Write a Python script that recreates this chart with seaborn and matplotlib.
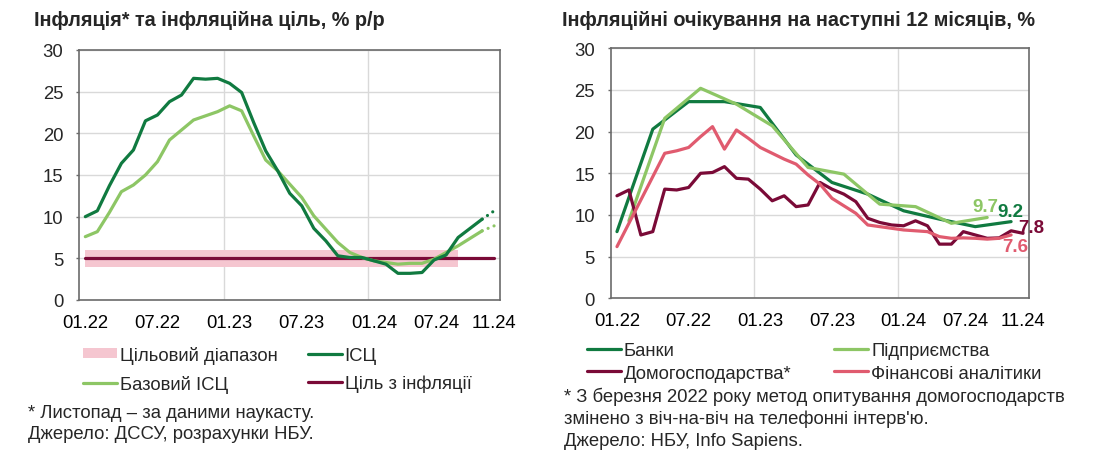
import numpy as np
import pandas as pd
import matplotlib
matplotlib.use("Agg")
import matplotlib.pyplot as plt
import seaborn as sns
from matplotlib.lines import Line2D
from matplotlib.patches import Patch

nan = np.nan

# ---------------- data ----------------
months = [f"{m:02d}.{y}" for y in (22, 23, 24) for m in range(1, 13)][:35]
tick_labels = ["01.22", "07.22", "01.23", "07.23", "01.24", "07.24", "11.24"]

# left chart: inflation, % y/y
cpi = [10.0, 10.7, 13.7, 16.4, 18.0, 21.5, 22.2, 23.8, 24.6, 26.6,
       26.5, 26.6, 26.0, 24.9, 21.3, 17.9, 15.5, 12.8, 11.3, 8.6,
       7.1, 5.3, 5.1, 5.1, 4.7, 4.3, 3.2, 3.2, 3.3, 4.8,
       5.4, 7.5, 8.6, 9.7, nan]
core = [7.6, 8.2, 10.5, 13.0, 13.8, 15.0, 16.6, 19.2, 20.4, 21.6,
        22.1, 22.6, 23.3, 22.7, 19.7, 16.8, 15.5, 13.9, 12.3, 10.1,
        8.5, 6.9, 5.7, 5.1, 4.7, 4.5, 4.3, 4.4, 4.4, 4.9,
        5.7, 6.5, 7.4, 8.3, nan]
nowcast_months = ["10.24", "11.24"]
cpi_nowcast = [9.7, 10.7]
core_nowcast = [8.3, 8.9]
target = 5.0
band_lo, band_hi = 4.0, 6.0
band_last_month = "08.24"

# right chart: inflation expectations for next 12 months, %
banks = [8.0, nan, nan, 20.3, nan, nan, 23.6, nan, nan, 23.6, nan, nan,
         22.9, nan, nan, 17.2, nan, nan, 13.9, nan, nan, 12.5, nan, nan,
         10.5, nan, nan, 9.5, nan, nan, 8.6, nan, nan, 9.2, nan]
enterprises = [nan, 9.3, nan, nan, 21.6, nan, nan, 25.2, nan, nan, 23.3, nan,
               nan, 20.7, nan, nan, 15.7, nan, nan, 14.9, nan, nan, 11.3, nan,
               nan, 11.0, nan, nan, 9.0, nan, nan, 9.7, nan, nan, nan]
households = [12.3, 13.0, 7.6, 8.0, 13.1, 13.0, 13.3, 15.0, 15.1, 15.8,
              14.4, 14.3, 13.1, 11.7, 12.3, 11.0, 11.2, 13.9, 13.1, 12.5,
              11.6, 9.6, 9.1, 8.8, 8.7, 9.3, 8.7, 6.5, 6.5, 8.0,
              7.6, 7.2, 7.25, 8.1, 7.8]
analysts = [6.2, nan, nan, nan, 17.4, 17.7, 18.1, 19.4, 20.6, 17.9,
            20.2, 19.2, 18.1, 17.4, 16.7, 16.1, 14.8, 13.7, 12.0, 11.1,
            10.2, 8.8, 8.6, 8.4, 8.2, 8.1, 8.0, 7.4, 7.2, 7.25,
            7.2, 7.1, 7.2, 7.6, nan]

# ---------------- style ----------------
C_DG = "#107a40"
C_LG = "#8dc665"
C_MR = "#7a0a37"
C_PK = "#e05b6f"
C_BAND = "#f5c6d0"
GRID = "#d9d9d9"
SPINE = "#6b6b6b"

sns.set_theme(style="white")
plt.rcParams["font.family"] = ["Liberation Sans", "DejaVu Sans"]
FS = 13.3
FS_TITLE = 14.3
LW = 2.3

fig = plt.figure(figsize=(11.13, 4.64), dpi=100)
W, H = 1113, 464


def ax_rect(x0, x1, ytop, ybot):
    return [x0 / W, 1 - ybot / H, (x1 - x0) / W, (ybot - ytop) / H]


axL = fig.add_axes(ax_rect(79.3, 500.2, 51, 301))
axR = fig.add_axes(ax_rect(611, 1029, 49.3, 299.3))

x = np.arange(len(months))
label_shift = {"07.24": -0.8}
tick_pos = [months.index(t) + label_shift.get(t, 0) for t in tick_labels]


def style_axes(ax):
    ax.set_xlim(-0.5, len(months) - 0.5)
    ax.set_ylim(0, 30)
    ax.set_yticks(np.arange(0, 31, 5))
    ax.set_xticks(tick_pos)
    ax.set_xticklabels(tick_labels)
    ax.set_xticks([11.5, 23.5], minor=True)
    ax.grid(False)
    ax.yaxis.grid(True, color=GRID, lw=1.0)
    ax.xaxis.grid(True, which="minor", color=GRID, lw=1.0)
    ax.set_axisbelow(True)
    for s in ax.spines.values():
        s.set_visible(True)
        s.set_color(SPINE)
        s.set_linewidth(1.2)
    ax.tick_params(axis="x", which="major", length=0, pad=10, labelsize=FS, colors="black")
    ax.tick_params(axis="x", which="minor", length=3.5, width=1.0, color=SPINE, direction="out")
    ax.tick_params(axis="y", length=2.5, width=1.0, color=SPINE, direction="out", pad=9,
                   labelsize=FS, left=True)
    ax.set_xlabel("")
    ax.set_ylabel("")


# ---------------- left chart ----------------
band_end = months.index(band_last_month)
axL.fill_between(x[:band_end + 1], band_lo, band_hi, color=C_BAND, lw=0, zorder=1)
sns.lineplot(x=x, y=[target] * len(x), ax=axL, color=C_MR, lw=LW, zorder=3)
sns.lineplot(x=x, y=core, ax=axL, color=C_LG, lw=LW, zorder=4)
sns.lineplot(x=x, y=cpi, ax=axL, color=C_DG, lw=LW, zorder=5)
xn = [months.index(m) for m in nowcast_months]
sns.lineplot(x=xn, y=core_nowcast, ax=axL, color=C_LG, lw=LW, zorder=4,
             linestyle=(0, (0.01, 2.0)), dash_capstyle="round")
sns.lineplot(x=xn, y=cpi_nowcast, ax=axL, color=C_DG, lw=LW, zorder=5,
             linestyle=(0, (0.01, 2.0)), dash_capstyle="round")
style_axes(axL)

# ---------------- right chart ----------------
series = [(banks, C_DG), (enterprises, C_LG), (households, C_MR), (analysts, C_PK)]
for vals, col in series:
    sns.lineplot(x=x, y=vals, ax=axR, color=col, lw=LW)
style_axes(axR)


def last_valid(vals):
    i = max(k for k, v in enumerate(vals) if not np.isnan(v))
    return i, vals[i]


label_offsets = [(enterprises, C_LG, (-2, 11)), (banks, C_DG, (-1, 10)),
                 (households, C_MR, (8, 6)), (analysts, C_PK, (4, -12))]
for vals, col, off in label_offsets:
    i, v = last_valid(vals)
    axR.annotate(f"{v:.1f}", xy=(i, v), xytext=off, textcoords="offset pixels",
                 ha="center", va="center", color=col, fontsize=13.5, fontweight="bold")

# ---------------- titles ----------------
fig.text(34 / W, 1 - 26.5 / H, "Інфляція* та інфляційна ціль, % р/р",
         fontsize=FS_TITLE, fontweight="bold", va="baseline", ha="left")
fig.text(562.5 / W, 1 - 26.5 / H, "Інфляційні очікування на наступні 12 місяців, %",
         fontsize=FS_TITLE, fontweight="bold", va="baseline", ha="left")

# ---------------- legends ----------------
def lh(c):
    return Line2D([0], [0], color=c, lw=LW)


legL = fig.legend(handles=[Patch(color=C_BAND, lw=0), lh(C_LG), lh(C_DG), lh(C_MR)],
                  labels=["Цільовий діапазон", "Базовий ІСЦ", "ІСЦ", "Ціль з інфляції"],
                  ncol=2, loc="upper left", bbox_to_anchor=(83 / W, 1 - 347 / H),
                  frameon=False, fontsize=FS, handlelength=1.84, handleheight=0.45,
                  handletextpad=0.16, columnspacing=1.62, labelspacing=0.58,
                  borderpad=0, borderaxespad=0)
legR = fig.legend(handles=[lh(C_DG), lh(C_MR), lh(C_LG), lh(C_PK)],
                  labels=["Банки", "Домогосподарства*", "Підприємства", "Фінансові аналітики"],
                  ncol=2, loc="upper left", bbox_to_anchor=(587 / W, 1 - 343 / H),
                  frameon=False, fontsize=FS, handlelength=1.84,
                  handletextpad=0.16, columnspacing=2.32, labelspacing=0.31,
                  borderpad=0, borderaxespad=0)

# ---------------- footnotes ----------------
for k, t in enumerate(["* Листопад – за даними наукасту.", "Джерело: ДССУ, розрахунки НБУ."]):
    fig.text(28.5 / W, 1 - (418 + 21 * k) / H, t, fontsize=FS, va="baseline", ha="left")
for k, t in enumerate(["* З березня 2022 року метод опитування домогосподарств",
                       "змінено з віч-на-віч на телефонні інтерв'ю.",
                       "Джерело: НБУ, Info Sapiens."]):
    fig.text(563.5 / W, 1 - (402.5 + 21.7 * k) / H, t, fontsize=FS, va="baseline", ha="left")

fig.savefig("out.png", dpi=100)
